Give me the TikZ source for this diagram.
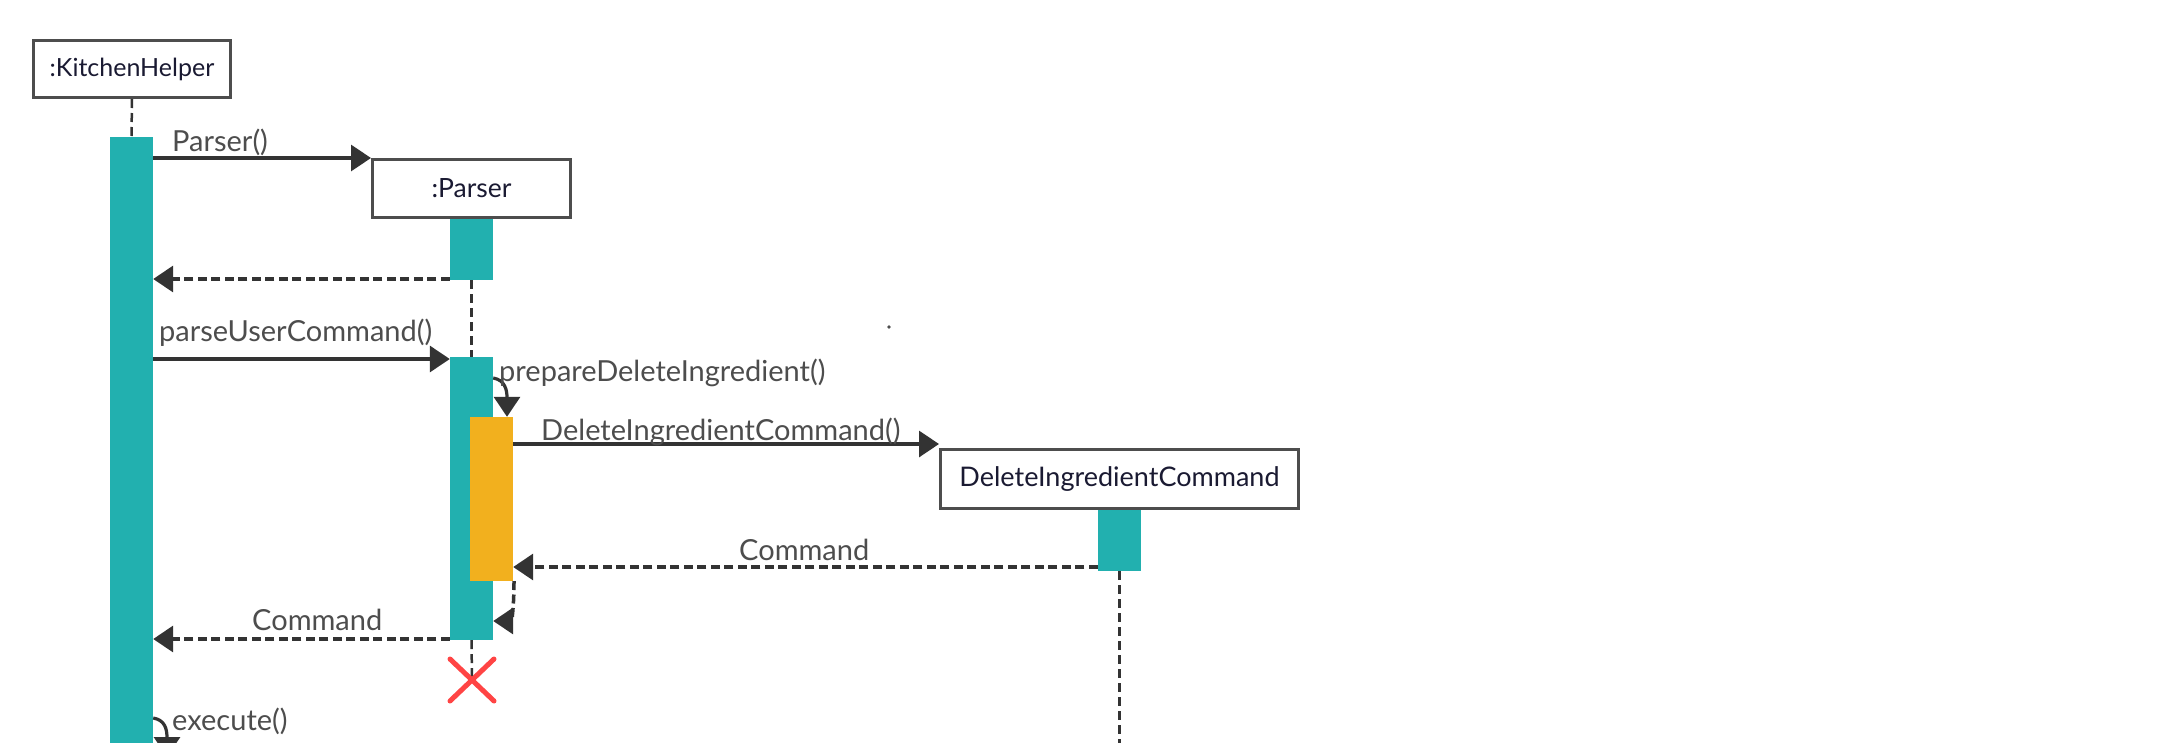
\documentclass[tikz,border=0pt]{standalone}
\usepackage{fontspec}
\setmainfont{Lato}
\usetikzlibrary{arrows.meta,calc}
\definecolor{barteal}{RGB}{34,176,175}
\definecolor{barorange}{RGB}{242,176,30}
\definecolor{boxgray}{RGB}{77,77,77}
\definecolor{boxtext}{RGB}{26,26,50}
\definecolor{lblgray}{RGB}{77,77,77}
\definecolor{linedark}{RGB}{51,51,51}
\definecolor{xred}{RGB}{255,68,68}
\tikzset{
  obj/.style={draw=boxgray, line width=3pt, fill=white, inner sep=0pt,
    font=\fontsize{26}{30}\selectfont, text=boxtext},
  actbar/.style={fill=barteal, draw=none, inner sep=0pt, minimum width=43pt},
  nestbar/.style={fill=barorange, draw=none, inner sep=0pt, minimum width=43pt},
  lifeline/.style={draw=linedark, line width=2.5pt, dash pattern=on 9pt off 5pt},
  callarrow/.style={draw=linedark, line width=3.2pt, -{Triangle[length=20pt,width=26pt]}},
  retarrow/.style={draw=linedark, line width=3.5pt, dash pattern=on 9pt off 4.5pt, -{Triangle[length=20pt,width=26pt]}},
  lbl/.style={anchor=base west, inner sep=0pt, font=\fontsize{29}{33}\selectfont, text=lblgray},
}
\begin{document}
\begin{tikzpicture}[x=1pt,y=-1pt]
\useasboundingbox (0,0) rectangle (2162,742);
\clip (0,0) rectangle (2162,742);
\fill[white] (0,0) rectangle (2162,742);

% objects
\node[obj, minimum width=197pt, minimum height=57pt, font=\fontsize{25}{29}\selectfont] (kh) at (132,69) {:KitchenHelper};
\node[obj, minimum width=198pt, minimum height=58pt, font=\fontsize{26.5}{30}\selectfont] (parser) at (471.5,188.5) {:Parser};
\node[obj, minimum width=358pt, minimum height=59pt, font=\fontsize{27}{31}\selectfont] (dic) at (1119.5,479) {DeleteIngredientCommand};

% activation bars
\node[actbar, minimum height=640pt] (khbar) at (131.5,457) {};
\node[actbar, minimum height=61pt] (pbarA) at (471.5,249.5) {};
\node[actbar, minimum height=283pt] (pbarB) at (471.5,498.5) {};
\node[nestbar, minimum height=164pt] (obar) at (491.5,499) {};
\node[actbar, minimum height=61pt] (dbar) at (1119.5,540.5) {};

% lifelines
\draw[lifeline] (kh.south) -- (khbar.north);
\draw[lifeline] (pbarA.south) -- (pbarB.north);
\coordinate (xmark) at (472,680);
\draw[lifeline] (pbarB.south) -- (xmark);
\coordinate (dend) at (1119.5,760);
\draw[lifeline] (dbar.south) -- (dend);

% destruction mark
\draw[xred, line width=5pt, line cap=round] ($(xmark)+(-22,-21)$) -- ($(xmark)+(22,21)$);
\draw[xred, line width=5pt, line cap=round] ($(xmark)+(22,-21)$) -- ($(xmark)+(-22,21)$);

% messages
\draw[callarrow] (khbar.east |- parser.north west) -- (parser.north west);
\node[lbl] (l1) at (172,151) {Parser()};

\draw[retarrow] (pbarA.west |- 0,279) -- (khbar.east |- 0,279);

\draw[callarrow] (khbar.east |- 0,359) -- (pbarB.west |- 0,359);
\node[lbl] (l2) at (159,341) {parseUserCommand()};

\draw[callarrow] (pbarB.east |- 0,378) .. controls (505,380) and (507,390) .. (obar.north east -| 507,0);
\node[lbl] (l3) at (499,381) {prepareDeleteIngredient()};

\draw[callarrow] (obar.east |- 0,444) -- (dic.west |- 0,444);
\node[lbl] (l4) at (541,440) {DeleteIngredientCommand()};

\draw[retarrow] (dbar.west |- 0,567) -- (obar.east |- 0,567);
\node[lbl] (l5) at (739,560) {Command};

\draw[retarrow] (514,581) .. controls (514,612) and (511,621) .. (pbarB.east |- 0,621);

\draw[retarrow] (pbarB.west |- 0,639) -- (khbar.east |- 0,639);
\node[lbl] (l6) at (252,630) {Command};

\coordinate (exend) at (167,757);
\draw[callarrow] (khbar.east |- 0,718) .. controls (165,720) and (167,729) .. (exend);
\node[lbl] (l7) at (172,730) {execute()};

\fill[lblgray] (889,327) circle (1.8pt);
\end{tikzpicture}
\end{document}
